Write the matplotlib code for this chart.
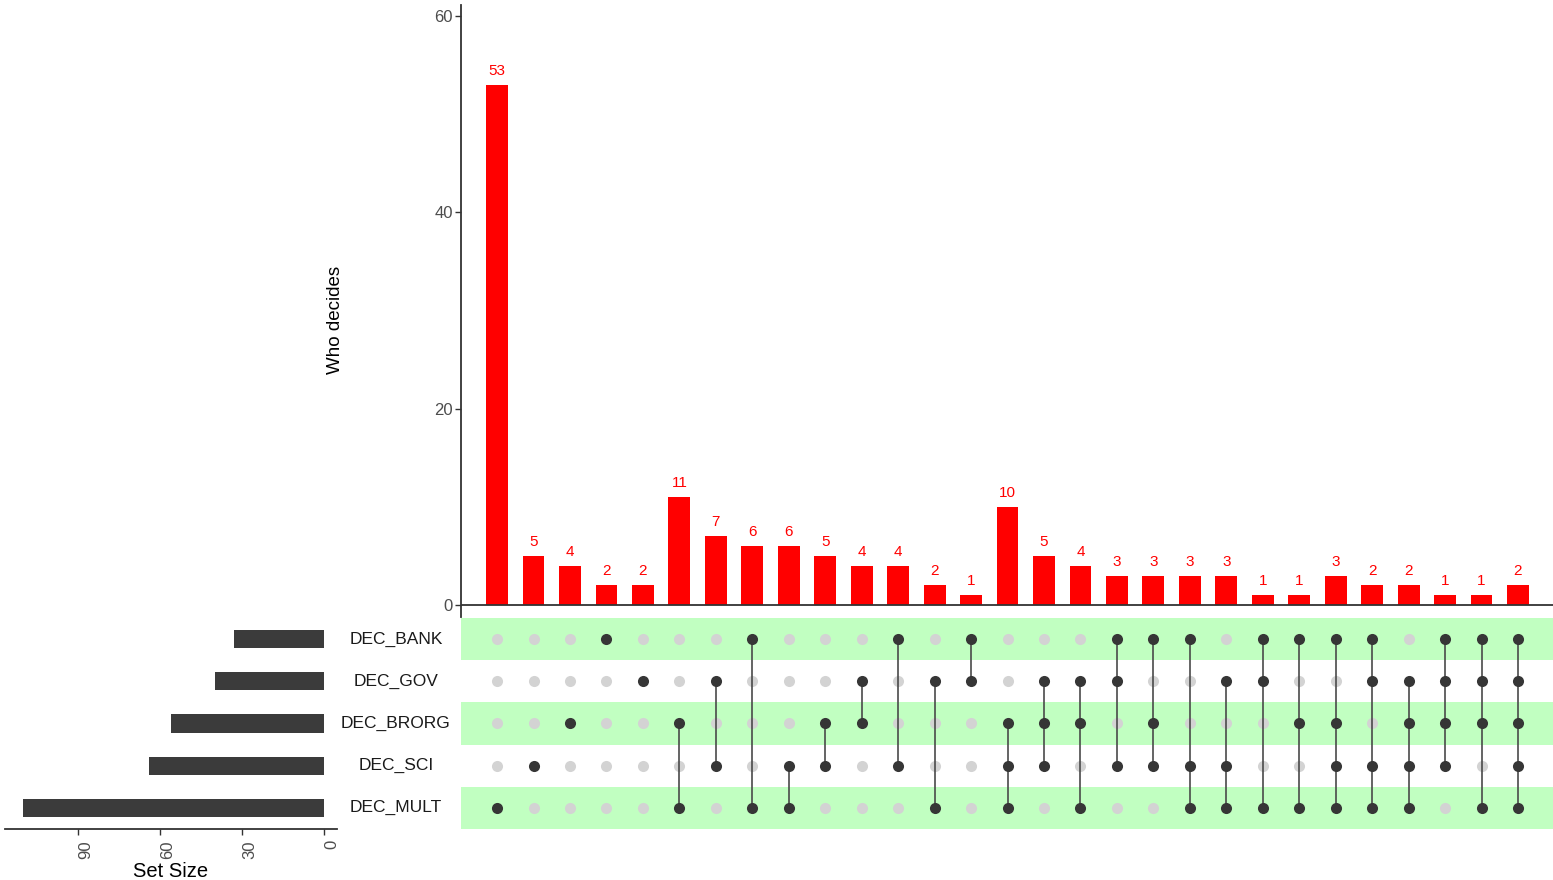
"""
UpSet style chart: who decides (intersections of DEC_* sets)
"""

import numpy as np
import matplotlib
matplotlib.use('Agg')
import matplotlib.pyplot as plt
from matplotlib.transforms import blended_transform_factory

plt.rcParams['font.family'] = ['Liberation Sans', 'DejaVu Sans']

# DATA
set_names = ['DEC_BANK', 'DEC_GOV', 'DEC_BRORG', 'DEC_SCI', 'DEC_MULT']

intersection_counts = [53, 5, 4, 2, 2, 11, 7, 6, 6, 5, 4, 4, 2, 1, 10,
                       5, 4, 3, 3, 3, 3, 1, 1, 3, 2, 2, 1, 1, 2]

intersection_members = [
    ['DEC_MULT'],
    ['DEC_SCI'],
    ['DEC_BRORG'],
    ['DEC_BANK'],
    ['DEC_GOV'],
    ['DEC_BRORG', 'DEC_MULT'],
    ['DEC_GOV', 'DEC_SCI'],
    ['DEC_BANK', 'DEC_MULT'],
    ['DEC_SCI', 'DEC_MULT'],
    ['DEC_BRORG', 'DEC_SCI'],
    ['DEC_GOV', 'DEC_BRORG'],
    ['DEC_BANK', 'DEC_SCI'],
    ['DEC_GOV', 'DEC_MULT'],
    ['DEC_BANK', 'DEC_GOV'],
    ['DEC_BRORG', 'DEC_SCI', 'DEC_MULT'],
    ['DEC_GOV', 'DEC_BRORG', 'DEC_SCI'],
    ['DEC_GOV', 'DEC_BRORG', 'DEC_MULT'],
    ['DEC_BANK', 'DEC_GOV', 'DEC_SCI'],
    ['DEC_BANK', 'DEC_BRORG', 'DEC_SCI'],
    ['DEC_BANK', 'DEC_SCI', 'DEC_MULT'],
    ['DEC_GOV', 'DEC_SCI', 'DEC_MULT'],
    ['DEC_BANK', 'DEC_GOV', 'DEC_MULT'],
    ['DEC_BANK', 'DEC_BRORG', 'DEC_MULT'],
    ['DEC_BANK', 'DEC_BRORG', 'DEC_SCI', 'DEC_MULT'],
    ['DEC_BANK', 'DEC_GOV', 'DEC_SCI', 'DEC_MULT'],
    ['DEC_GOV', 'DEC_BRORG', 'DEC_SCI', 'DEC_MULT'],
    ['DEC_BANK', 'DEC_GOV', 'DEC_BRORG', 'DEC_SCI'],
    ['DEC_BANK', 'DEC_GOV', 'DEC_BRORG', 'DEC_MULT'],
    ['DEC_BANK', 'DEC_GOV', 'DEC_BRORG', 'DEC_SCI', 'DEC_MULT'],
]

main_yticks = [0, 20, 40, 60]
size_xticks = [0, 30, 60, 90]

# STYLE
BAR_COLOR = '#FF0000'
DOT_ON = '#363636'
DOT_OFF = '#D3D3D3'
SHADE = '#C1FFC1'
TEXT_GRAY = '#4D4D4D'
AXIS_COLOR = '#333333'

W, H = 1553, 880
fig = plt.figure(figsize=(W / 100, H / 100), dpi=100)


def px_axes(left, top, right, bottom):
    """axes placed by pixel box"""
    return fig.add_axes([left / W, 1 - bottom / H, (right - left) / W, (bottom - top) / H])


n_int = len(intersection_counts)
n_set = len(set_names)
xs = np.arange(n_int)
XLIM = (-0.99, n_int - 1 + 0.96)

# membership matrix
member = np.array([[name in m for m in intersection_members] for name in set_names])
set_sizes = [sum(c for c, on in zip(intersection_counts, row) if on) for row in member]

# MAIN BARS
ax_bar = px_axes(461, 5, 1553, 617)
ax_bar.bar(xs, intersection_counts, width=0.6, color=BAR_COLOR)
for x, c in zip(xs, intersection_counts):
    ax_bar.annotate(str(c), (x, c), xytext=(0, 5), textcoords='offset points',
                    ha='center', va='bottom', color=BAR_COLOR, fontsize=11)
ax_bar.axhline(0, color=AXIS_COLOR, linewidth=1.3)
ax_bar.set_xlim(*XLIM)
ax_bar.set_ylim(-1.22, 61.1)
ax_bar.set_xticks([])
ax_bar.set_yticks(main_yticks)
ax_bar.tick_params(axis='y', colors=AXIS_COLOR, labelcolor=TEXT_GRAY, labelsize=12,
                   length=4, width=1, pad=2)
for s in ['top', 'right', 'bottom']:
    ax_bar.spines[s].set_visible(False)
ax_bar.spines['left'].set_color(AXIS_COLOR)
ax_bar.spines['left'].set_linewidth(1.3)
fig.text(336 / W, 1 - 320 / H, 'Who decides', rotation=90, ha='center', va='center',
         fontsize=13.5, color='black')

# MATRIX
ax_mat = px_axes(461, 618, 1553, 829)
for i in range(n_set):
    if i % 2 == 0:
        ax_mat.axhspan(i - 0.5, i + 0.5, color=SHADE, zorder=0, linewidth=0)
gx, gy = np.meshgrid(xs, np.arange(n_set))
ax_mat.scatter(gx[~member], gy[~member], s=64, color=DOT_OFF, zorder=2, linewidths=0)
for j in range(n_int):
    rows = np.where(member[:, j])[0]
    if len(rows) > 1:
        ax_mat.plot([j, j], [rows.min(), rows.max()], color='#4A4A4A', linewidth=1.2, zorder=3)
ax_mat.scatter(gx[member], gy[member], s=64, color=DOT_ON, zorder=4, linewidths=0)
ax_mat.set_xlim(*XLIM)
ax_mat.set_ylim(n_set - 0.5, -0.5)
ax_mat.axis('off')

# set labels
trans = blended_transform_factory(fig.transFigure, ax_mat.transData)
for i, name in enumerate(set_names):
    ax_mat.text(396 / W, i, name, transform=trans, ha='center', va='center',
                fontsize=12.5, color='#1A1A1A')

# SET SIZE BARS
ax_size = px_axes(5, 618, 337, 829)
ax_size.barh(np.arange(n_set), set_sizes, height=0.43, color='#3B3B3B')
ax_size.set_xlim(116.7, -4.76)
ax_size.set_ylim(n_set - 0.5, -0.5)
ax_size.set_yticks([])
ax_size.set_xticks(size_xticks)
ax_size.set_xticklabels([str(t) for t in size_xticks], rotation=90)
ax_size.tick_params(axis='x', colors=AXIS_COLOR, labelcolor=TEXT_GRAY, labelsize=12,
                    length=4, width=1, pad=4)
for lbl in ax_size.get_xticklabels():
    lbl.set_horizontalalignment('left')
ax_size.spines['bottom'].set_color(AXIS_COLOR)
for s in ['top', 'right', 'left']:
    ax_size.spines[s].set_visible(False)
ax_size.spines['bottom'].set_linewidth(1.3)
ax_size.set_xlabel('Set Size', fontsize=14.5, labelpad=2)

fig.savefig('out.png', dpi=100)
